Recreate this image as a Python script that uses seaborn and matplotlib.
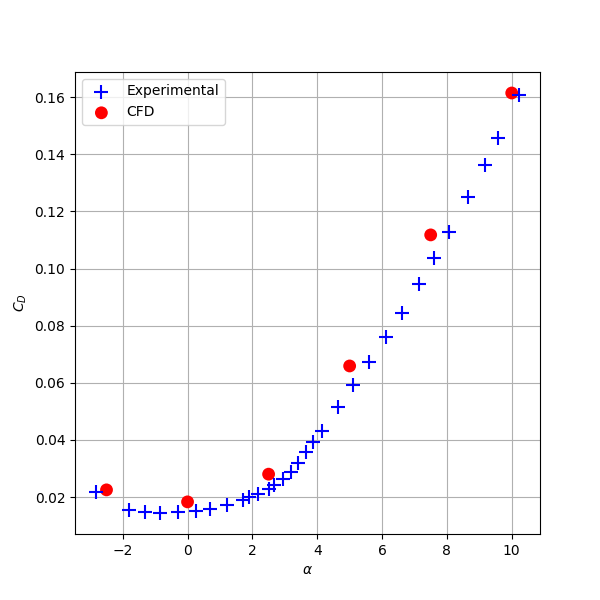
import numpy as np
import pandas as pd
import matplotlib
matplotlib.use("Agg")
import matplotlib.pyplot as plt
import seaborn as sns

# Experimental drag coefficient vs angle of attack
alpha_exp = [-2.82, -1.80, -1.30, -0.84, -0.31, 0.25, 0.68, 1.21, 1.70, 1.89,
             2.17, 2.51, 2.66, 2.94, 3.19, 3.41, 3.65, 3.87, 4.15, 4.64,
             5.11, 5.60, 6.13, 6.63, 7.15, 7.59, 8.05, 8.64, 9.16, 9.57, 10.22]
cd_exp = [0.0218, 0.0154, 0.0147, 0.0144, 0.0147, 0.0151, 0.0158, 0.0172, 0.0189, 0.0200,
          0.0210, 0.0228, 0.0242, 0.0263, 0.0288, 0.0319, 0.0358, 0.0393, 0.0431, 0.0515,
          0.0592, 0.0673, 0.0760, 0.0844, 0.0946, 0.1037, 0.1128, 0.1251, 0.1363, 0.1457, 0.1608]

# CFD results
alpha_cfd = [-2.5, 0.0, 2.5, 5.0, 7.5, 10.0]
cd_cfd = [0.0225, 0.0183, 0.0280, 0.0659, 0.1118, 0.1615]

df_exp = pd.DataFrame({"alpha": alpha_exp, "cd": cd_exp})
df_cfd = pd.DataFrame({"alpha": alpha_cfd, "cd": cd_cfd})

fig, ax = plt.subplots(figsize=(6, 6), dpi=100)

sns.scatterplot(data=df_exp, x="alpha", y="cd", marker="+", color="blue",
                s=90, linewidth=1.5, label="Experimental", ax=ax, zorder=3)
sns.scatterplot(data=df_cfd, x="alpha", y="cd", marker="o", color="red",
                s=85, edgecolor="none", label="CFD", ax=ax, zorder=2)

ax.set_xlabel(r"$\alpha$")
ax.set_ylabel(r"$C_D$")
ax.grid(True)
ax.legend(loc="upper left")

plt.savefig("out.png", dpi=100)
